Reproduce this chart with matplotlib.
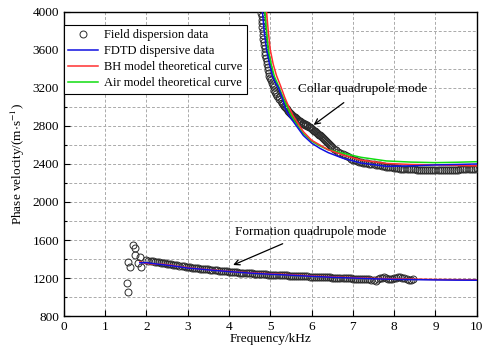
import numpy as np
import matplotlib
matplotlib.use('agg')
import matplotlib.pyplot as plt
from matplotlib.lines import Line2D

plt.rcParams['font.family'] = ['Liberation Serif', 'DejaVu Serif']
plt.rcParams['mathtext.fontset'] = 'stix'
plt.rcParams['font.size'] = 9

# collar quadrupole mode - field dispersion data (kHz, m/s)
collar_f = [4.78, 4.79, 4.80, 4.80, 4.81, 4.82, 4.82, 4.83, 4.84, 4.85, 4.86, 4.87, 4.88, 4.89,
            4.91, 4.92, 4.94, 4.95, 4.97, 4.98, 5.00, 5.02, 5.04, 5.06, 5.08, 5.10, 5.12, 5.15,
            5.17, 5.20, 5.22, 5.25, 5.28, 5.30, 5.33, 5.35, 5.38, 5.40, 5.43, 5.45, 5.48, 5.50,
            5.53, 5.55, 5.58, 5.60, 5.63, 5.65, 5.68, 5.70, 5.73, 5.75, 5.78, 5.80, 5.83, 5.85,
            5.88, 5.90, 5.93, 5.95, 5.98, 6.00, 6.03, 6.05, 6.08, 6.10, 6.13, 6.15, 6.18, 6.20,
            6.23, 6.25, 6.28, 6.30, 6.33, 6.35, 6.38, 6.40, 6.43, 6.45, 6.48,
            6.50, 6.55, 6.60, 6.65, 6.70, 6.75, 6.80, 6.85, 6.90, 6.95, 7.00, 7.05, 7.10, 7.15,
            7.20, 7.25, 7.30, 7.35, 7.40, 7.45, 7.50, 7.55, 7.60, 7.65, 7.70, 7.75, 7.80, 7.85,
            7.90, 7.95, 8.00, 8.05, 8.10, 8.15, 8.20, 8.25, 8.30, 8.35, 8.40, 8.45, 8.50, 8.55,
            8.60, 8.65, 8.70, 8.75, 8.80, 8.85, 8.90, 8.95, 9.00, 9.05, 9.10, 9.15, 9.20, 9.25,
            9.30, 9.35, 9.40, 9.45, 9.50, 9.55, 9.60, 9.65, 9.70, 9.75, 9.80, 9.85, 9.90, 9.95,
            10.0]
collar_v = [3990, 3960, 3920, 3880, 3840, 3800, 3760, 3720, 3685, 3650, 3615, 3580, 3545, 3510,
            3480, 3450, 3420, 3390, 3360, 3330, 3305, 3280, 3255, 3230, 3205, 3180, 3160, 3140,
            3120, 3100, 3080, 3060, 3045, 3030, 3015, 3000, 2987, 2975, 2962, 2950, 2937, 2925,
            2915, 2905, 2897, 2890, 2880, 2870, 2862, 2855, 2847, 2840, 2832, 2825, 2820, 2815,
            2807, 2800, 2792, 2785, 2777, 2770, 2760, 2750, 2742, 2735, 2725, 2715, 2707, 2700,
            2690, 2680, 2670, 2660, 2650, 2640, 2630, 2620, 2610, 2600, 2590,
            2575, 2560, 2545, 2530, 2517, 2505, 2495, 2483, 2470, 2457, 2445, 2438, 2432, 2426,
            2420, 2415, 2410, 2406, 2402, 2398, 2395, 2391, 2388, 2384, 2380, 2376, 2372, 2369,
            2366, 2363, 2360, 2357, 2355, 2352, 2350, 2348, 2346, 2345, 2344, 2343, 2342, 2341,
            2340, 2339, 2338, 2338, 2337, 2337, 2337, 2336, 2336, 2336, 2336, 2336, 2337, 2337,
            2338, 2339, 2340, 2340, 2340, 2341, 2342, 2343, 2345, 2346, 2348, 2349, 2350, 2352,
            2355]

# formation quadrupole mode - field dispersion data
form_f = [1.52, 1.56, 1.56, 1.60, 1.68, 1.72, 1.72, 1.79, 1.84, 1.88,
          2.00, 2.05, 2.10, 2.15, 2.20, 2.25, 2.30, 2.35, 2.40, 2.45, 2.50, 2.55, 2.60, 2.65,
          2.70, 2.75, 2.80, 2.85, 2.90, 2.95, 3.00, 3.05, 3.10, 3.15, 3.20, 3.25, 3.30, 3.35,
          3.40, 3.45, 3.50, 3.55, 3.60, 3.65, 3.70, 3.75, 3.80, 3.85, 3.90, 3.95, 4.00, 4.05,
          4.10, 4.15, 4.20, 4.25, 4.30, 4.35, 4.40, 4.45, 4.50, 4.55, 4.60, 4.65, 4.70, 4.75,
          4.80, 4.85, 4.90, 4.95, 5.00, 5.05, 5.10, 5.15, 5.20, 5.25, 5.30, 5.35, 5.40, 5.45,
          5.50, 5.55, 5.60, 5.65, 5.70, 5.75, 5.80, 5.85, 5.90, 5.95, 6.00, 6.05, 6.10, 6.15,
          6.20, 6.25, 6.30, 6.35, 6.40, 6.45, 6.50, 6.55, 6.60, 6.65, 6.70, 6.75, 6.80, 6.85,
          6.90, 6.95, 7.00, 7.05, 7.10, 7.15, 7.20, 7.25, 7.30, 7.35, 7.40, 7.45, 7.50, 7.55,
          7.60, 7.65, 7.70, 7.75, 7.80, 7.85, 7.90, 7.95, 8.00, 8.05, 8.10, 8.15, 8.20, 8.25,
          8.30, 8.35, 8.40, 8.45]
form_v = [1144, 1056, 1372, 1313, 1547, 1512, 1440, 1360, 1424, 1313,
          1385, 1382, 1380, 1377, 1373, 1369, 1365, 1362, 1358, 1354, 1350, 1347, 1345, 1342,
          1338, 1334, 1330, 1326, 1322, 1318, 1315, 1312, 1310, 1307, 1305, 1302, 1300, 1297,
          1295, 1292, 1290, 1287, 1285, 1282, 1280, 1278, 1276, 1274, 1272, 1270, 1268, 1266,
          1264, 1262, 1260, 1258, 1257, 1255, 1254, 1252, 1250, 1248, 1247, 1245, 1244, 1242,
          1241, 1240, 1238, 1237, 1236, 1234, 1233, 1232, 1231, 1230, 1229, 1228, 1227, 1226,
          1225, 1224, 1223, 1222, 1221, 1220, 1219, 1218, 1217, 1216, 1215, 1214, 1213, 1212,
          1211, 1210, 1209, 1208, 1207, 1206, 1205, 1204, 1203, 1202, 1201, 1200, 1199, 1198,
          1197, 1196, 1195, 1194, 1193, 1192, 1191, 1190, 1189, 1187, 1185, 1180, 1175, 1170,
          1185, 1198, 1205, 1207, 1200, 1195, 1190, 1195, 1200, 1205, 1210, 1212, 1205, 1198,
          1190, 1183, 1180, 1185]

# collar mode curves
fdtd_cf = [4.81, 4.85, 4.91, 4.98, 5.05, 5.12, 5.20, 5.30, 5.35, 5.45, 5.60, 5.80, 6.00, 6.20,
           6.40, 6.76, 7.20, 7.81, 8.40, 9.00, 9.50, 10.0]
fdtd_cv = [4000, 3800, 3600, 3450, 3330, 3260, 3200, 3080, 3000, 2910, 2820, 2700, 2620, 2565,
           2520, 2460, 2410, 2375, 2380, 2390, 2395, 2400]
bh_cf = [4.91, 4.95, 5.00, 5.07, 5.15, 5.25, 5.35, 5.45, 5.55, 5.65, 5.80, 6.00, 6.20, 6.40,
         6.76, 7.20, 7.81, 8.40, 9.00, 9.50, 10.0]
bh_cv = [4000, 3800, 3600, 3450, 3330, 3220, 3100, 3000, 2910, 2840, 2740, 2650, 2600, 2550,
         2495, 2440, 2406, 2395, 2390, 2385, 2380]
air_cf = [4.87, 4.91, 4.95, 5.02, 5.10, 5.20, 5.30, 5.40, 5.50, 5.60, 5.80, 6.00, 6.20, 6.40,
          6.76, 7.20, 7.81, 8.40, 9.00, 9.50, 10.0]
air_cv = [4000, 3800, 3600, 3450, 3320, 3220, 3110, 3010, 2920, 2840, 2720, 2640, 2590, 2550,
          2513, 2470, 2432, 2420, 2414, 2418, 2424]

# formation mode curves
fdtd_ff = [1.84, 2.0, 2.2, 2.4, 2.6, 2.8, 3.0, 3.2, 3.4, 3.6, 3.8, 4.0, 4.5, 5.0, 5.5, 6.0,
           6.5, 7.0, 7.5, 8.0, 8.5, 9.0, 9.5, 10.0]
fdtd_fv = [1360, 1362, 1350, 1340, 1330, 1318, 1305, 1298, 1290, 1282, 1275, 1268, 1252, 1240,
           1230, 1218, 1208, 1200, 1192, 1186, 1183, 1180, 1178, 1177]
bh_ff = fdtd_ff
bh_fv = [1370, 1355, 1345, 1345, 1335, 1320, 1310, 1300, 1292, 1285, 1278, 1270, 1255, 1245,
         1235, 1222, 1212, 1204, 1196, 1192, 1188, 1185, 1183, 1182]

c_blue = '#1010e0'
c_red = '#ff3030'
c_green = '#10dd10'
c_mark = '#2a2a2a'

fig = plt.figure(figsize=(4.91, 3.5), dpi=100)
ax = fig.add_axes([0.130, 0.097, 0.841, 0.869])

ax.plot(collar_f, collar_v, 'o', ms=5, mfc='none', mec=c_mark, mew=0.7, zorder=3)
ax.plot(form_f, form_v, 'o', ms=5, mfc='none', mec=c_mark, mew=0.7, zorder=3)
ax.plot(air_cf, air_cv, color=c_green, lw=1.1, zorder=4)
ax.plot(bh_cf, bh_cv, color=c_red, lw=1.1, zorder=4)
ax.plot(fdtd_cf, fdtd_cv, color=c_blue, lw=1.1, zorder=5)
ax.plot(bh_ff, bh_fv, color=c_red, lw=1.1, zorder=4)
ax.plot(fdtd_ff, fdtd_fv, color=c_blue, lw=1.1, zorder=5)

ax.set_xlim(0, 10)
ax.set_ylim(800, 4000)
ax.set_xticks(np.arange(0, 11, 1))
ax.set_yticks(np.arange(800, 4001, 400))
ax.set_yticks(np.arange(800, 4001, 200), minor=True)
ax.tick_params(direction='in', length=4, width=0.8, labelsize=9.5)
ax.tick_params(which='minor', direction='in', length=2.5, width=0.8)
ax.grid(True, which='both', axis='y', ls=(0, (3, 2)), color='#aaaaaa', lw=0.7)
ax.grid(True, which='major', axis='x', ls=(0, (3, 2)), color='#aaaaaa', lw=0.7)
ax.set_axisbelow(True)
for s in ax.spines.values():
    s.set_linewidth(1.0)

ax.set_xlabel('Frequency/kHz', fontsize=9.5, labelpad=0)
ax.set_ylabel(r'Phase velocity/(m$\cdot$s$^{-1}$)', fontsize=9.5, labelpad=4)

ax.annotate('Collar quadrupole mode', xy=(6.05, 2811), xytext=(7.23, 3190),
            ha='center', va='center', fontsize=9.5,
            arrowprops=dict(arrowstyle='->', color='k', lw=0.9, shrinkA=6, shrinkB=0))
ax.annotate('Formation quadrupole mode', xy=(4.1, 1337), xytext=(5.98, 1688),
            ha='center', va='center', fontsize=9.5,
            arrowprops=dict(arrowstyle='->', color='k', lw=0.9, shrinkA=6, shrinkB=0))

handles = [Line2D([], [], ls='none', marker='o', ms=5, mfc='none', mec=c_mark, mew=0.7),
           Line2D([], [], color=c_blue, lw=1.1),
           Line2D([], [], color=c_red, lw=1.1),
           Line2D([], [], color=c_green, lw=1.1)]
labels = ['Field dispersion data', 'FDTD dispersive data',
          'BH model theoretical curve', 'Air model theoretical curve']
leg = ax.legend(handles, labels, loc='upper left', bbox_to_anchor=(0.0, 0.957),
                borderaxespad=0, fancybox=False, framealpha=1, edgecolor='k',
                fontsize=9, handlelength=2.4, handletextpad=0.5, labelspacing=0.32,
                borderpad=0.35)
leg.get_frame().set_linewidth(0.8)

fig.savefig('out.png', dpi=100)
